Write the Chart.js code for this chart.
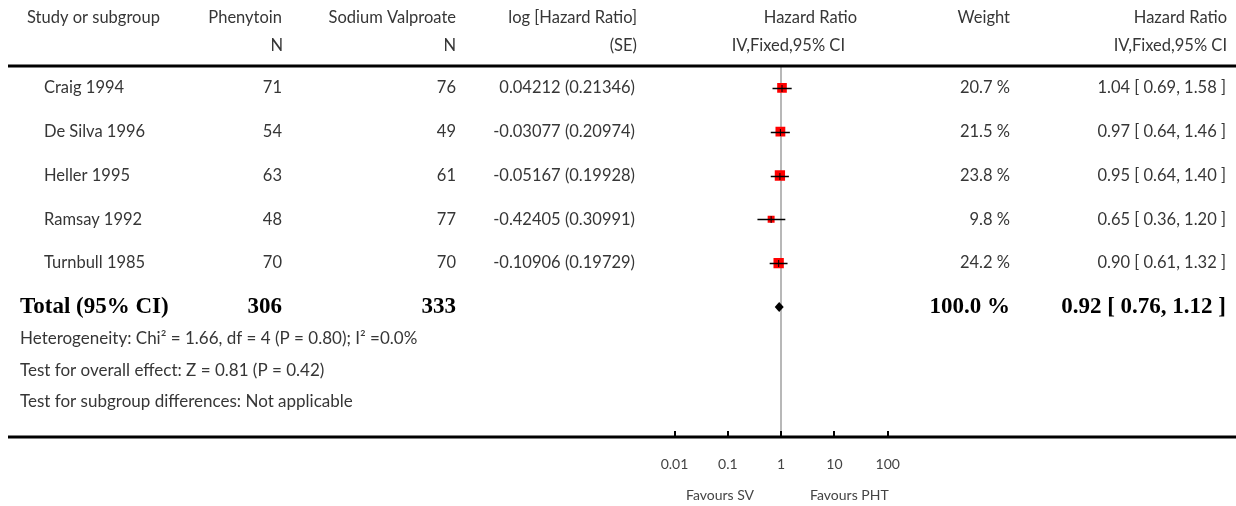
<!DOCTYPE html>
<html>
<head>
<meta charset="utf-8">
<script src="https://cdn.jsdelivr.net/npm/chart.js@4/dist/chart.umd.min.js"></script>
<style>
  html, body { margin: 0; padding: 0; background: #fff; }
  #forest { display: block; }
</style>
</head>
<body>
<canvas id="forest" width="1236" height="506"></canvas>
<script>
// data
const studyNames = ["Craig 1994", "De Silva 1996", "Heller 1995", "Ramsay 1992", "Turnbull 1985"];
const phenytoinN = [71, 54, 63, 48, 70];
const valproateN = [76, 49, 61, 77, 70];
const logHazard = [0.04212, -0.03077, -0.05167, -0.42405, -0.10906];
const logHazardSE = [0.21346, 0.20974, 0.19928, 0.30991, 0.19729];
const weights = [20.7, 21.5, 23.8, 9.8, 24.2];
const hazardRatio = [1.04, 0.97, 0.95, 0.65, 0.90];
const ciLow = [0.69, 0.64, 0.64, 0.36, 0.61];
const ciHigh = [1.58, 1.46, 1.40, 1.20, 1.32];

const totalPhenytoin = 306;
const totalValproate = 333;
const totalWeight = 100.0;
const totalHR = 0.92;
const totalLow = 0.76;
const totalHigh = 1.12;

const tickValues = [0.01, 0.1, 1, 10, 100];
const tickLabels = ["0.01", "0.1", "1", "10", "100"];

const footerLines = [
    "Heterogeneity: Chi\u00B2 = 1.66, df = 4 (P = 0.80); I\u00B2 =0.0%",
    "Test for overall effect: Z = 0.81 (P = 0.42)",
    "Test for subgroup differences: Not applicable"
];

const sans = "Lato, 'DejaVu Sans', sans-serif";
const serif = "'Liberation Serif', 'DejaVu Serif', serif";
const textColour = "#363636";
const totalRow = studyNames.length;

// tekst op het canvas zetten
function put(ctx, str, x, y, align, font, colour) {
    ctx.font = font;
    ctx.textAlign = align;
    ctx.textBaseline = "middle";
    ctx.fillStyle = colour || textColour;
    ctx.fillText(str, x, y);
}

const forestPlugin = {
    id: "forest",
    afterDatasetsDraw(chart) {
        const ctx = chart.ctx;
        const x = chart.scales.x;
        const y = chart.scales.y;
        ctx.save();
        // CI lines with the small mark at the estimate
        ctx.strokeStyle = "#000";
        for (let i = 0; i < studyNames.length; i++) {
            const py = Math.round(y.getPixelForValue(i)) + 0.5;
            ctx.lineWidth = 1.5;
            ctx.beginPath();
            ctx.moveTo(x.getPixelForValue(ciLow[i]), py);
            ctx.lineTo(x.getPixelForValue(ciHigh[i]), py);
            ctx.stroke();
            const px = x.getPixelForValue(hazardRatio[i]);
            ctx.lineWidth = 1;
            ctx.beginPath();
            ctx.moveTo(px, py - 3.5);
            ctx.lineTo(px, py + 3.5);
            ctx.stroke();
        }
        // diamond for the total
        const ty = y.getPixelForValue(totalRow);
        ctx.fillStyle = "#000";
        ctx.beginPath();
        ctx.moveTo(x.getPixelForValue(totalLow), ty);
        ctx.lineTo(x.getPixelForValue(totalHR), ty - 5);
        ctx.lineTo(x.getPixelForValue(totalHigh), ty);
        ctx.lineTo(x.getPixelForValue(totalHR), ty + 5);
        ctx.closePath();
        ctx.fill();
        ctx.restore();
    },
    afterDraw(chart) {
        const ctx = chart.ctx;
        const x = chart.scales.x;
        const y = chart.scales.y;
        const area = chart.chartArea;
        ctx.save();

        // dikke lijnen boven en onder
        ctx.strokeStyle = "#000";
        ctx.lineWidth = 3;
        ctx.beginPath();
        ctx.moveTo(8, area.top);
        ctx.lineTo(chart.width, area.top);
        ctx.moveTo(8, area.bottom);
        ctx.lineTo(chart.width, area.bottom);
        ctx.stroke();

        // tick marks pointing up
        ctx.lineWidth = 2;
        ctx.beginPath();
        x.ticks.forEach(t => {
            const px = Math.round(x.getPixelForValue(t.value));
            ctx.moveTo(px, area.bottom - 6);
            ctx.lineTo(px, area.bottom);
        });
        ctx.stroke();

        // header
        const fs = "16.5px " + sans;
        put(ctx, "Study or subgroup", 27, 18, "left", fs);
        put(ctx, "Phenytoin", 282, 18, "right", fs);
        put(ctx, "N", 283, 46, "right", fs);
        put(ctx, "Sodium Valproate", 456, 18, "right", fs);
        put(ctx, "N", 456, 46, "right", fs);
        put(ctx, "log [Hazard Ratio]", 637, 18, "right", fs);
        put(ctx, "(SE)", 637, 46, "right", fs);
        put(ctx, "Hazard Ratio", 857, 18, "right", fs);
        put(ctx, "IV,Fixed,95% CI", 845, 46, "right", fs);
        put(ctx, "Weight", 1010, 18, "right", fs);
        put(ctx, "Hazard Ratio", 1227, 18, "right", fs);
        put(ctx, "IV,Fixed,95% CI", 1227, 46, "right", fs);

        // studies
        for (let i = 0; i < studyNames.length; i++) {
            const py = y.getPixelForValue(i);
            put(ctx, studyNames[i], 44, py, "left", fs);
            put(ctx, String(phenytoinN[i]), 282, py, "right", fs);
            put(ctx, String(valproateN[i]), 456, py, "right", fs);
            put(ctx, `${logHazard[i].toFixed(5)} (${logHazardSE[i].toFixed(5)})`, 635, py, "right", fs);
            put(ctx, `${weights[i].toFixed(1)} %`, 1010, py, "right", fs);
            put(ctx, `${hazardRatio[i].toFixed(2)} [ ${ciLow[i].toFixed(2)}, ${ciHigh[i].toFixed(2)} ]`, 1226, py, "right", fs);
        }

        // total
        const ty = y.getPixelForValue(totalRow);
        const fb = "bold 23px " + serif;
        put(ctx, "Total (95% CI)", 20, ty, "left", fb, "#000");
        put(ctx, String(totalPhenytoin), 282, ty, "right", fb, "#000");
        put(ctx, String(totalValproate), 456, ty, "right", fb, "#000");
        put(ctx, `${totalWeight.toFixed(1)} %`, 1010, ty, "right", fb, "#000");
        put(ctx, `${totalHR.toFixed(2)} [ ${totalLow.toFixed(2)}, ${totalHigh.toFixed(2)} ]`, 1226, ty, "right", fb, "#000");

        // voetnoten
        const ff = "17px " + sans;
        footerLines.forEach((line, i) => {
            put(ctx, line, 20, ty + 32 + i * 31.5, "left", ff);
        });

        // favours
        const one = x.getPixelForValue(1);
        const f14 = "14px " + sans;
        put(ctx, "Favours SV", one - 27, 495, "right", f14, "#444");
        put(ctx, "Favours PHT", one + 29, 495, "left", f14, "#444");
        ctx.restore();
    }
};

const points = hazardRatio.map((v, i) => ({ x: v, y: i }));

new Chart(document.getElementById("forest"), {
    type: "scatter",
    data: {
        datasets: [{
            data: points,
            pointStyle: "rect",
            pointRadius: weights.map(w => (1.9 * Math.sqrt(w) + 1) / Math.SQRT2),
            backgroundColor: "#ff0000",
            borderWidth: 0
        }]
    },
    options: {
        responsive: false,
        animation: false,
        events: [],
        layout: { padding: { left: 674.5, right: 348.3, top: 66, bottom: 0 } },
        plugins: { legend: { display: false }, tooltip: { enabled: false } },
        scales: {
            x: {
                type: "logarithmic",
                min: 0.01,
                max: 100,
                afterBuildTicks: s => { s.ticks = tickValues.map(v => ({ value: v })); },
                afterFit: s => { s.height = 69; },
                ticks: {
                    callback: (v, i) => tickLabels[i],
                    font: { family: "Lato", size: 14 },
                    color: "#444",
                    padding: 19,
                    maxRotation: 0,
                    autoSkip: false
                },
                grid: {
                    drawTicks: false,
                    lineWidth: 2,
                    color: c => (c.tick && c.tick.value === 1 ? "#b8b8b8" : "rgba(0,0,0,0)")
                },
                border: { display: false }
            },
            y: {
                type: "linear",
                reverse: true,
                min: -0.5,
                max: 7.97,
                display: false
            }
        }
    },
    plugins: [forestPlugin]
});
</script>
</body>
</html>
